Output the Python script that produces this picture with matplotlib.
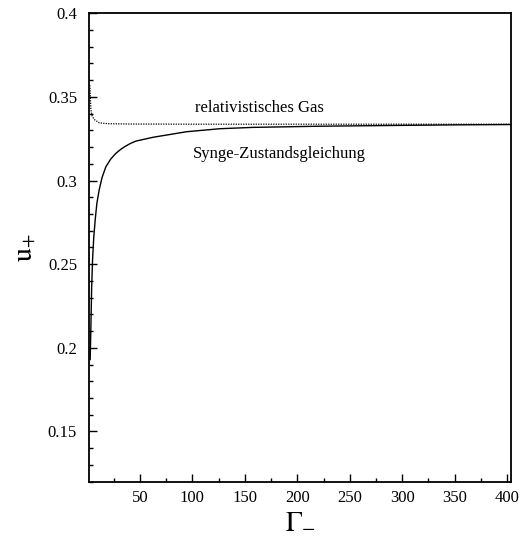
import matplotlib
matplotlib.use("Agg")
import matplotlib.pyplot as plt
from matplotlib.ticker import MultipleLocator, FixedLocator, FuncFormatter

plt.rcParams['font.family'] = ['Liberation Serif', 'DejaVu Serif']
plt.rcParams['mathtext.fontset'] = 'stix'

# Synge equation of state (solid)
gamma_synge = [2.6, 3.3, 4.0, 4.9, 6.0, 7.4, 9.0, 11.2, 14.0, 17.6, 22.0, 27.1,
               32.0, 36.7, 41.0, 46.2, 62.7, 94.5, 126.3, 157.8, 221.7, 300, 350, 404]
u_synge = [0.193, 0.213, 0.236, 0.253, 0.266, 0.2766, 0.2865, 0.2945, 0.3020,
           0.3083, 0.3127, 0.3163, 0.3188, 0.3207, 0.3222, 0.3236, 0.3259, 0.3292,
           0.3310, 0.3318, 0.3325, 0.3330, 0.3333, 0.3335]

# relativistic gas (dotted)
gamma_rel = [2.3, 3.3, 4.5, 6.5, 11.2, 20, 40, 100, 200, 300, 404]
u_rel = [0.357, 0.3424, 0.3385, 0.3365, 0.3345, 0.3340, 0.3338, 0.3337, 0.3337,
         0.3337, 0.3337]

y_ticks = [0.15, 0.2, 0.25, 0.3, 0.35, 0.4]
x_ticks = [50, 100, 150, 200, 250, 300, 350, 400]

fig = plt.figure(figsize=(5.2, 5.43), dpi=100)
ax = fig.add_axes([0.171, 0.113, 0.812, 0.8625])

ax.plot(gamma_synge, u_synge, color='black', lw=1.0, solid_joinstyle='round')
ax.plot(gamma_rel, u_rel, color='black', lw=0.9, linestyle=(0, (1, 1)))

ax.set_xlim(1.4, 403.8)
ax.set_ylim(0.12, 0.4)

ax.xaxis.set_major_locator(FixedLocator(x_ticks))
ax.xaxis.set_minor_locator(MultipleLocator(25))
ax.yaxis.set_major_locator(FixedLocator(y_ticks))
ax.yaxis.set_minor_locator(MultipleLocator(0.01))
ax.yaxis.set_major_formatter(FuncFormatter(lambda v, p: ('%g' % v)))

ax.tick_params(which='both', direction='in', top=False, right=False,
               labelsize=12, width=1.0)
ax.tick_params(which='major', length=6)
ax.tick_params(which='minor', length=3)
ax.tick_params(axis='y', which='major', pad=8.5)
ax.tick_params(axis='x', which='major', pad=6)
for s in ax.spines.values():
    s.set_linewidth(1.3)

ax.text(102.5, 0.3436, 'relativistisches Gas', fontsize=12, va='center', ha='left')
ax.text(100.5, 0.3156, 'Synge-Zustandsgleichung', fontsize=12, va='center', ha='left')

ax.set_xlabel(r'$\mathrm{\Gamma_{-}}$', fontsize=20, labelpad=2)
ax.set_ylabel(r'$\mathrm{u_{+}}$', fontsize=20, labelpad=8)

fig.savefig('out.png', dpi=100)
